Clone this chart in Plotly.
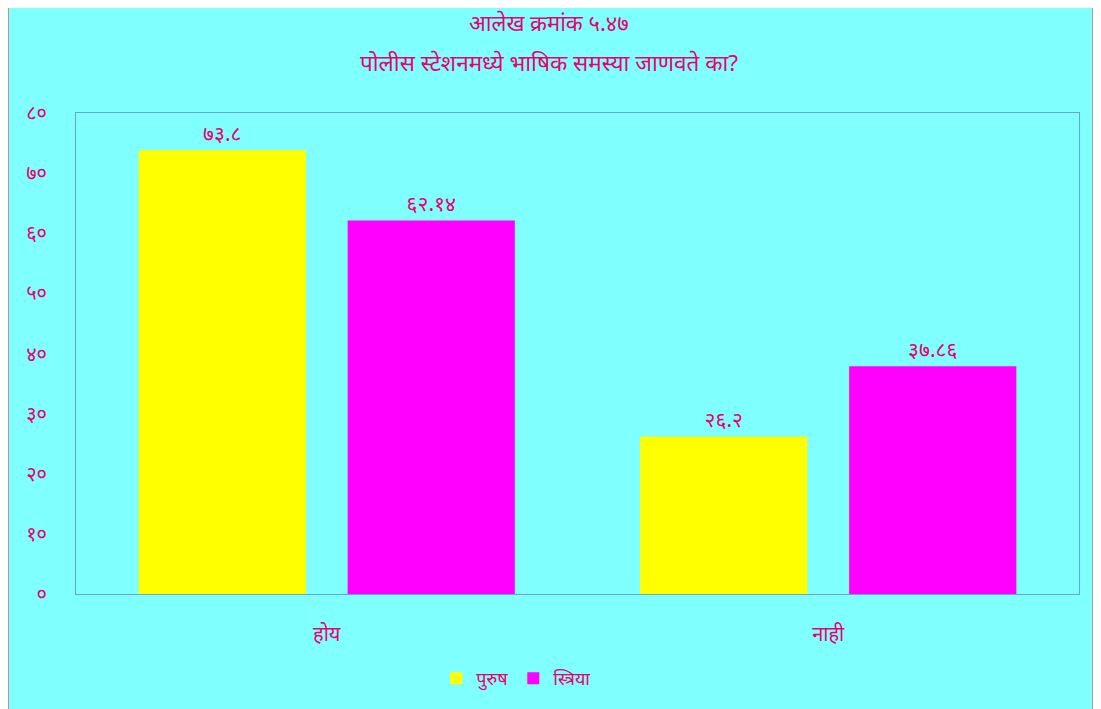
import plotly.graph_objects as go

# data
categories = ["होय", "नाही"]
purush = [73.8, 26.2]
striya = [62.14, 37.86]
series_names = ["पुरुष", "स्त्रिया"]
tick_vals = [0, 10, 20, 30, 40, 50, 60, 70, 80]
tick_text = ["०", "१०", "२०", "३०", "४०", "५०", "६०", "७०", "८०"]
title_lines = ["आलेख क्रमांक ५.४७", "पोलीस स्टेशनमध्ये भाषिक समस्या जाणवते का?"]

DEV = str.maketrans("0123456789", "०१२३४५६७८९")
PINK = "#E8006E"
CYAN = "#80FFFF"
FONT = "Noto Sans, Lohit Devanagari, Mangal, sans-serif"


def dev(v):
    return f"{v:g}".translate(DEV)


def main():
    fig = plot()
    fig.write_html("out.html")


def plot():
    fig = go.Figure()
    fig.add_trace(go.Bar(
        x=categories, y=purush, name=series_names[0],
        marker=dict(color="#FFFF00", line=dict(width=0)),
        text=[dev(v) for v in purush], textposition="outside",
        cliponaxis=False,
    ))
    fig.add_trace(go.Bar(
        x=categories, y=striya, name=series_names[1],
        marker=dict(color="#FF00FF", line=dict(width=0)),
        text=[dev(v) for v in striya], textposition="outside",
        cliponaxis=False,
    ))
    fig.update_traces(textfont=dict(color=PINK, size=21, family=FONT))

    # the page puts the plot 8px in from the top left, so the figure is 8px smaller
    fig.update_layout(
        width=1093, height=701,
        margin=dict(l=68, r=22, t=105, b=106),
        paper_bgcolor="white",
        plot_bgcolor=CYAN,
        font=dict(family=FONT, color=PINK, size=18),
        barmode="group",
        bargap=0.1665,
        bargroupgap=0.2,
        showlegend=True,
        legend=dict(orientation="h", x=0.439, xanchor="center", y=-0.176, yanchor="middle",
                    bgcolor="rgba(0,0,0,0)", font=dict(size=18), itemwidth=30,
                    traceorder="normal"),
        annotations=[
            dict(text=title_lines[0], xref="paper", yref="paper", x=0.4716, y=1.189,
                 xanchor="center", yanchor="middle", showarrow=False,
                 font=dict(size=22, color=PINK)),
            dict(text=title_lines[1], xref="paper", yref="paper", x=0.4716, y=1.106,
                 xanchor="center", yanchor="middle", showarrow=False,
                 font=dict(size=22.5, color=PINK)),
        ],
        shapes=[dict(type="rect", xref="paper", yref="paper",
                     x0=-0.0678, x1=1.014, y0=-0.25, y1=1.25,
                     fillcolor=CYAN, line=dict(color="#A0A0A0", width=2),
                     layer="below")],
    )
    fig.update_xaxes(showline=True, mirror=True, linecolor="#6F9FD8", linewidth=1,
                     ticks="", tickfont=dict(size=20), ticklabelstandoff=22)
    fig.update_yaxes(range=[0, 80], tickvals=tick_vals, ticktext=tick_text,
                     showgrid=False, zeroline=False, showline=True, mirror=True,
                     linecolor="#6F9FD8", linewidth=1, ticks="",
                     ticklabelstandoff=24, tickfont=dict(size=20))
    return fig


main()
